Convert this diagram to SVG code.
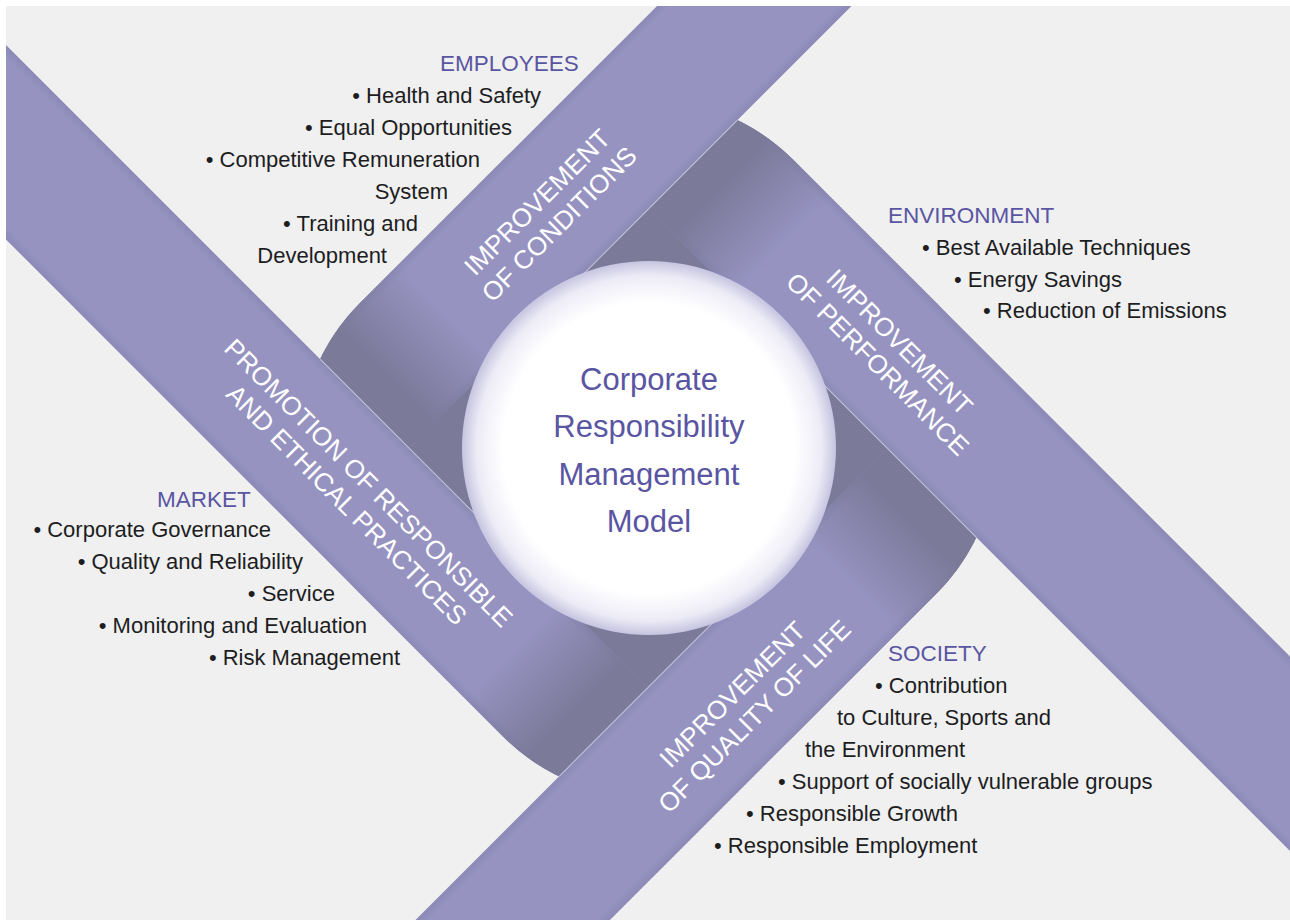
<svg xmlns="http://www.w3.org/2000/svg" width="1290" height="920" viewBox="0 0 1290 920">
<defs>
<style>
.body{font-family:"Liberation Sans",Arial,sans-serif;font-size:22px;fill:#1d1d1f}
.head{font-family:"Liberation Sans",Arial,sans-serif;font-size:22.5px;fill:#5a55a3}
.band{font-family:"Liberation Sans",Arial,sans-serif;font-size:26px;fill:#ffffff;text-anchor:middle}
.title{font-family:"Liberation Sans",Arial,sans-serif;font-size:31px;fill:#5a55a3;text-anchor:middle}
.end{text-anchor:end}
</style>
<clipPath id="page"><rect x="6" y="6" width="1284" height="914"/></clipPath>
<linearGradient id="across" gradientUnits="userSpaceOnUse" x1="-306.5" y1="0" x2="-169" y2="0">
<stop offset="0" stop-color="#8b89b6"/>
<stop offset="0.07" stop-color="#9693c1"/>
<stop offset="0.93" stop-color="#9693c1"/>
<stop offset="1" stop-color="#8b89b6"/>
</linearGradient>
<linearGradient id="fade" gradientUnits="userSpaceOnUse" x1="0" y1="45" x2="0" y2="135">
<stop offset="0" stop-color="#7b7a99" stop-opacity="0"/>
<stop offset="1" stop-color="#7b7a99" stop-opacity="1"/>
</linearGradient>
<radialGradient id="disc" cx="0.5" cy="0.5" r="0.5">
<stop offset="0" stop-color="#ffffff"/>
<stop offset="0.78" stop-color="#ffffff"/>
<stop offset="0.92" stop-color="#edecf6"/>
<stop offset="1" stop-color="#c6c4e0"/>
</radialGradient>
<path id="thru" d="M-306.5,-1400 L-306.5,0 L-169,0 L-169,-1400 Z" fill="url(#across)"/>
<g id="endHalf">
<path d="M-306.5,-1 L-306.5,101.5 A205,205 0 0 0 -169,295.1 L-169,-1 Z" fill="url(#across)"/>
<path d="M-306.5,-1 L-306.5,101.5 A205,205 0 0 0 -169,295.1 L-169,-1 Z" fill="url(#fade)"/>
</g>
<line id="seam" x1="-169" y1="-295" x2="-169" y2="-60" stroke="#ffffff" stroke-opacity="0.55" stroke-width="1"/>
</defs>

<rect x="0" y="0" width="1290" height="920" fill="#ffffff"/>
<rect id="bg" x="6" y="6" width="1284" height="914" fill="#eff0ef"/>

<g id="ribbon" clip-path="url(#page)">
<g transform="translate(648.25,448.25) rotate(45)">
<rect x="-306.5" y="-306.5" width="613" height="613" rx="205" fill="#7b7a99"/>
<use href="#endHalf"/>
<use href="#endHalf" transform="rotate(90)"/>
<use href="#endHalf" transform="rotate(180)"/>
<use href="#endHalf" transform="rotate(270)"/>
<use id="band-conditions" href="#thru"/>
<use id="band-performance" href="#thru" transform="rotate(90)"/>
<use id="band-quality" href="#thru" transform="rotate(180)"/>
<use id="band-promotion" href="#thru" transform="rotate(270)"/>
<use href="#seam"/>
<use href="#seam" transform="rotate(90)"/>
<use href="#seam" transform="rotate(180)"/>
<use href="#seam" transform="rotate(270)"/>
</g>
</g>

<g id="label-conditions" transform="translate(547.75,212.75) rotate(-45)">
<text class="band" x="0" y="-6">IMPROVEMENT</text>
<text class="band" x="0" y="25">OF CONDITIONS</text>
</g>
<g id="label-performance" transform="translate(889,352.7) rotate(45)">
<text class="band" x="0" y="-6">IMPROVEMENT</text>
<text class="band" x="0" y="25">OF PERFORMANCE</text>
</g>
<g id="label-promotion" transform="translate(358,493.5) rotate(45)">
<text class="band" x="0" y="-6">PROMOTION OF RESPONSIBLE</text>
<text class="band" x="0" y="25">AND ETHICAL PRACTICES</text>
</g>
<g id="label-quality" transform="translate(743,705) rotate(-45)">
<text class="band" x="0" y="-6">IMPROVEMENT</text>
<text class="band" x="0" y="25">OF QUALITY OF LIFE</text>
</g>

<g id="center">
<circle cx="649" cy="448" r="187" fill="url(#disc)"/>
<text class="title" x="649" y="390">Corporate</text>
<text class="title" x="649" y="437">Responsibility</text>
<text class="title" x="649" y="485">Management</text>
<text class="title" x="649" y="532">Model</text>
</g>

<g id="employees">
<text class="head" x="440" y="71">EMPLOYEES</text>
<text class="body end" x="541" y="103">• Health and Safety</text>
<text class="body end" x="512" y="135">• Equal Opportunities</text>
<text class="body end" x="480" y="167">• Competitive Remuneration</text>
<text class="body end" x="448" y="199">System</text>
<text class="body end" x="418" y="231">• Training and</text>
<text class="body end" x="387" y="263">Development</text>
</g>

<g id="environment">
<text class="head" x="888" y="223">ENVIRONMENT</text>
<text class="body" x="922" y="255">• Best Available Techniques</text>
<text class="body" x="954" y="287">• Energy Savings</text>
<text class="body" x="983" y="318">• Reduction of Emissions</text>
</g>

<g id="market">
<text class="head" x="157" y="507">MARKET</text>
<text class="body end" x="271" y="537">• Corporate Governance</text>
<text class="body end" x="303" y="569">• Quality and Reliability</text>
<text class="body end" x="335" y="601">• Service</text>
<text class="body end" x="367" y="633">• Monitoring and Evaluation</text>
<text class="body end" x="400" y="665">• Risk Management</text>
</g>

<g id="society">
<text class="head" x="888" y="661">SOCIETY</text>
<text class="body" x="875" y="693">• Contribution</text>
<text class="body" x="837" y="725">to Culture, Sports and</text>
<text class="body" x="805" y="757">the Environment</text>
<text class="body" x="778" y="789">• Support of socially vulnerable groups</text>
<text class="body" x="746" y="821">• Responsible Growth</text>
<text class="body" x="714" y="853">• Responsible Employment</text>
</g>
</svg>
